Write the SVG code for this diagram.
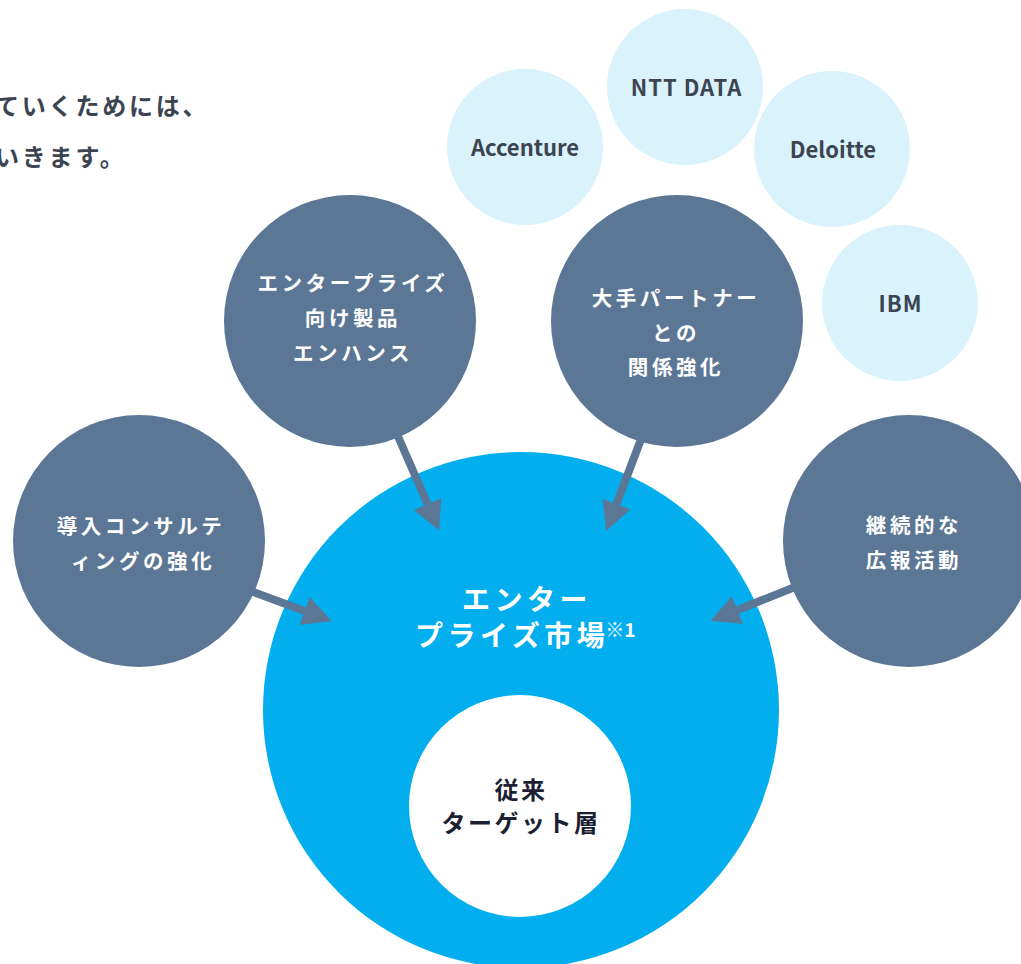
<svg xmlns="http://www.w3.org/2000/svg" width="1021" height="964" viewBox="0 0 1021 964">
  <style>
    .jp { font-family: "Noto Sans CJK JP", "Noto Sans", sans-serif; font-weight: 700; }
    .lead { fill: #3d4451; font-size: 24px; letter-spacing: 2.8px; }
    .partner { fill: #d9f2fc; }
    .pname { fill: #3d4451; font-size: 22px; text-anchor: middle; font-family: "Noto Sans CJK JP", "Noto Sans", sans-serif; font-weight: 700; }
    .strategy { fill: #5b7795; }
    .stext { fill: #ffffff; font-size: 20.5px; letter-spacing: 3.6px; text-anchor: middle; }
    .market { fill: #03aeef; }
    .mtext { fill: #ffffff; font-size: 28px; letter-spacing: 4.5px; }
    .core { fill: #ffffff; }
    .ctext { fill: #1c1f33; font-size: 24px; letter-spacing: 2.5px; text-anchor: middle; }
    .conn { stroke: #5b7795; stroke-width: 8; fill: none; marker-end: url(#arrow); }
  </style>
  <defs>
    <marker id="arrow" viewBox="0 0 29 30" refX="0" refY="15" markerWidth="29" markerHeight="30" markerUnits="userSpaceOnUse" orient="auto">
      <path d="M0,0 L29,15 L0,30 Z" fill="#5b7795"/>
    </marker>
  </defs>
  <rect width="1021" height="964" fill="#ffffff"/>

  <g id="lead-text" class="jp">
    <text class="lead" x="-5" y="115">ていくためには、</text>
    <text class="lead" x="-5" y="166">いきます。</text>
  </g>

  <g id="partner-accenture">
    <circle class="partner" cx="525" cy="147" r="78"/>
    <text class="pname" x="525" y="156">Accenture</text>
  </g>
  <g id="partner-nttdata">
    <circle class="partner" cx="685" cy="87" r="78"/>
    <text class="pname" x="686.5" y="96" letter-spacing="1">NTT DATA</text>
  </g>
  <g id="partner-deloitte">
    <circle class="partner" cx="832" cy="149" r="78"/>
    <text class="pname" x="833" y="158">Deloitte</text>
  </g>
  <g id="partner-ibm">
    <circle class="partner" cx="900" cy="303" r="78"/>
    <text class="pname" x="900.5" y="312" letter-spacing="1">IBM</text>
  </g>

  <g id="enterprise-market">
    <circle class="market" cx="521" cy="710" r="258"/>
    <text class="jp mtext" x="462" y="610">エンター</text>
    <text class="jp mtext" x="415" y="646">プライズ市場<tspan font-size="19" letter-spacing="0" dx="-4" dy="-9">※1</tspan></text>
  </g>

  <g id="core-target">
    <circle class="core" cx="520" cy="806" r="111"/>
    <text class="jp ctext" x="521" y="799">従来</text>
    <text class="jp ctext" x="521" y="832">ターゲット層</text>
  </g>

  <g id="connectors">
    <line class="conn" x1="393" y1="425" x2="427.5" y2="504"/>
    <line class="conn" x1="643" y1="434" x2="616.5" y2="504"/>
    <line class="conn" x1="240" y1="587" x2="304.5" y2="611"/>
    <line class="conn" x1="805" y1="583" x2="737.5" y2="610"/>
  </g>

  <g id="strategy-product">
    <circle class="strategy" cx="350" cy="321" r="126"/>
    <text class="jp stext" x="353" y="291">エンタープライズ</text>
    <text class="jp stext" x="353" y="326">向け製品</text>
    <text class="jp stext" x="353" y="361">エンハンス</text>
  </g>
  <g id="strategy-partner">
    <circle class="strategy" cx="677" cy="321" r="126"/>
    <text class="jp stext" x="676" y="306">大手パートナー</text>
    <text class="jp stext" x="676" y="341">との</text>
    <text class="jp stext" x="676" y="375">関係強化</text>
  </g>
  <g id="strategy-consulting">
    <circle class="strategy" cx="139" cy="541" r="126"/>
    <text class="jp stext" x="141" y="534">導入コンサルテ</text>
    <text class="jp stext" x="143" y="569">ィングの強化</text>
  </g>
  <g id="strategy-pr">
    <circle class="strategy" cx="909" cy="541" r="126"/>
    <text class="jp stext" x="914" y="533">継続的な</text>
    <text class="jp stext" x="914" y="568">広報活動</text>
  </g>
</svg>
